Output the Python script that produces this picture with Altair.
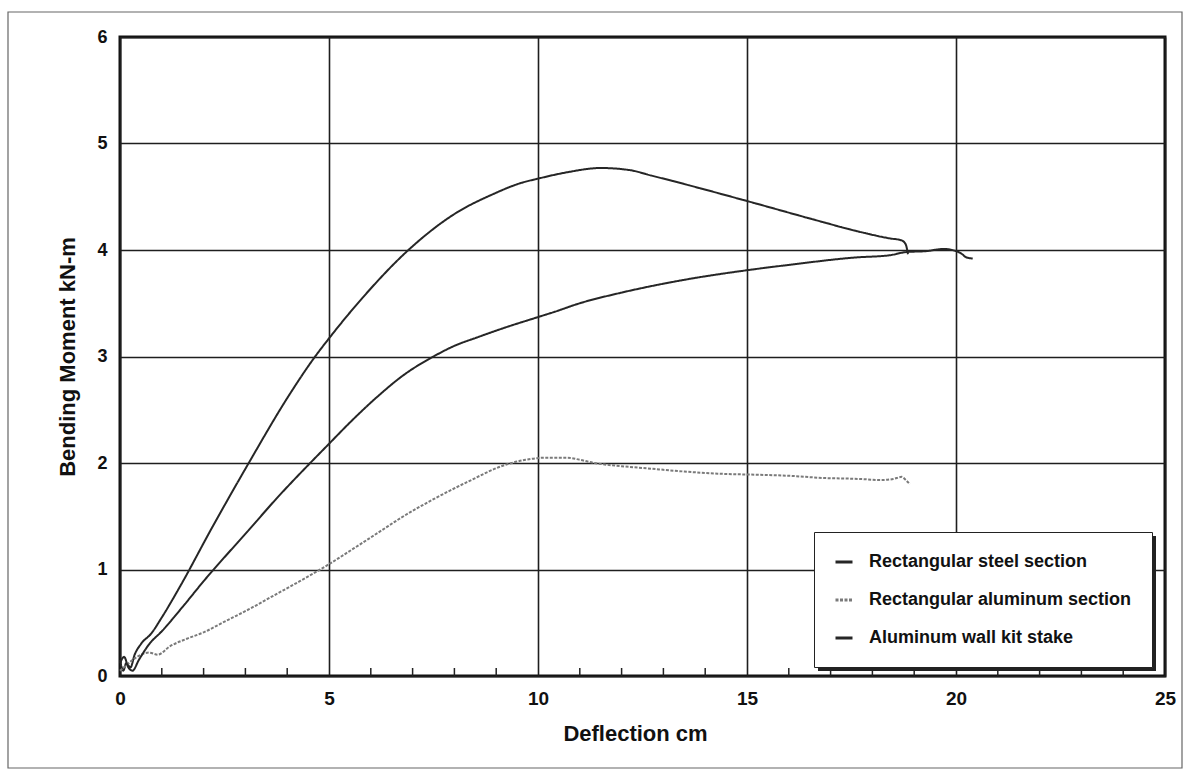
import altair as alt
import pandas as pd

# Series names, in legend order, with their stroke styles
series_names = [
    "Rectangular steel section",
    "Rectangular aluminum section",
    "Aluminum wall kit stake",
]
series_colors = ["#262626", "#7a7a7a", "#262626"]
series_dashes = [[1, 0], [3, 1.5], [1, 0]]

# Rectangular steel section: deflection (cm) / bending moment (kN-m)
steel_x = [0, 0.08, 0.15, 0.25, 0.35, 0.5, 0.75, 1.0, 1.45, 2.17, 3.08, 4.05,
           4.65, 5.0, 5.8, 6.9, 8.05, 8.9, 9.6, 10.0, 10.7, 11.5, 12.2, 12.7,
           13.2, 15.0, 16.65, 17.6, 18.4, 18.7, 18.8, 18.85]
steel_y = [0.15, 0.05, 0.12, 0.08, 0.2, 0.3, 0.4, 0.55, 0.85, 1.37, 2.0, 2.64,
           2.99, 3.17, 3.55, 4.0, 4.35, 4.52, 4.63, 4.67, 4.73, 4.77, 4.75, 4.70,
           4.65, 4.46, 4.28, 4.18, 4.11, 4.09, 4.05, 3.96]

# Rectangular aluminum section
alu_x = [0, 0.15, 0.3, 0.5, 0.7, 0.9, 1.2, 1.6, 2.0, 2.5, 3.1, 3.7, 4.3, 5.0,
         5.6, 6.27, 6.7, 7.5, 8.3, 9.2, 9.7, 10.2, 10.7, 11.0, 11.35, 12.0,
         12.6, 13.5, 14.3, 15.2, 16.0, 16.8, 17.7, 18.2, 18.5, 18.7, 18.8, 18.9]
alu_y = [0.05, 0.1, 0.15, 0.2, 0.22, 0.2, 0.28, 0.35, 0.41, 0.51, 0.63, 0.76,
         0.89, 1.05, 1.2, 1.37, 1.48, 1.66, 1.82, 1.98, 2.03, 2.05, 2.05, 2.03,
         2.0, 1.97, 1.95, 1.92, 1.9, 1.89, 1.88, 1.86, 1.85, 1.84, 1.85, 1.87,
         1.84, 1.80]

# Aluminum wall kit stake
wall_x = [0, 0.1, 0.2, 0.3, 0.45, 0.7, 1.0, 1.5, 2.0, 3.08, 3.73, 4.6, 5.0,
          5.5, 6.15, 6.8, 7.5, 8.0, 8.55, 9.2, 10.0, 10.4, 11.0, 12.0, 13.5,
          15.0, 16.0, 17.6, 18.4, 18.8, 19.3, 19.7, 20.0, 20.15, 20.25, 20.4]
wall_y = [0.12, 0.18, 0.08, 0.05, 0.15, 0.3, 0.42, 0.65, 0.89, 1.37, 1.66, 2.02,
          2.18, 2.38, 2.62, 2.83, 3.0, 3.1, 3.18, 3.27, 3.37, 3.42, 3.5, 3.6,
          3.72, 3.81, 3.86, 3.93, 3.95, 3.98, 3.99, 4.01, 3.99, 3.96, 3.93, 3.92]

# Axis ticks
x_ticks = [0, 5, 10, 15, 20, 25]
y_ticks = [0, 1, 2, 3, 4, 5, 6]
minor_x_ticks = [v for v in range(1, 25) if v % 5 != 0]

rows = []
for name, xs, ys in zip(series_names, [steel_x, alu_x, wall_x], [steel_y, alu_y, wall_y]):
    for i, (xv, yv) in enumerate(zip(xs, ys)):
        rows.append({"series": name, "deflection": xv, "moment": yv, "idx": i})
curves = pd.DataFrame(rows)
minor = pd.DataFrame({"deflection": minor_x_ticks})

W, H = 1045, 639
FONT = "Liberation Sans"

x_enc = alt.X(
    "deflection:Q",
    scale=alt.Scale(domain=[0, 25], nice=False, zero=True),
    axis=alt.Axis(
        values=x_ticks, title="Deflection cm", grid=True, ticks=False, domain=False,
        labelFont=FONT, labelFontSize=19, labelFontWeight="bold", labelColor="#111",
        labelPadding=13, labelFlush=False,
        titleFont=FONT, titleFontSize=22, titleFontWeight="bold", titleColor="#111",
        titleX=515, titleY=64, titleBaseline="alphabetic", titleAlign="center",
    ),
)
y_enc = alt.Y(
    "moment:Q",
    scale=alt.Scale(domain=[0, 6], nice=False),
    axis=alt.Axis(
        values=y_ticks, title="Bending Moment kN-m", grid=True, ticks=False, domain=False,
        labelFont=FONT, labelFontSize=18, labelFontWeight="bold", labelColor="#111",
        labelPadding=13,
        titleFont=FONT, titleFontSize=22, titleFontWeight="bold", titleColor="#111",
        titlePadding=17,
    ),
)

legend = alt.Legend(
    title=None, orient="none", legendX=694, legendY=495,
    fillColor="white", strokeColor="#222", padding=20, rowPadding=19,
    labelFont=FONT, labelFontSize=18, labelFontWeight="bold", labelColor="#111",
    labelLimit=400, labelOffset=15,
    symbolType="stroke", symbolSize=289, symbolStrokeWidth=3,
)

lines = alt.Chart(curves).mark_line(
    strokeJoin="round", strokeWidth=2, interpolate="monotone"
).encode(
    x=x_enc,
    y=y_enc,
    color=alt.Color("series:N", scale=alt.Scale(domain=series_names, range=series_colors), legend=legend),
    strokeDash=alt.StrokeDash("series:N", scale=alt.Scale(domain=series_names, range=series_dashes), legend=legend),
    order="idx:Q",
)

# Inward minor ticks on the bottom axis
ticks = alt.Chart(minor).mark_rule(color="#222", strokeWidth=1.5).encode(
    x=x_enc,
    y=alt.value(H),
    y2=alt.value(H - 8),
)

# Drop shadow behind the legend box
shadow = alt.Chart(alt.Data(values=[{}])).mark_rect(color="#222").encode(
    x=alt.value(698), x2=alt.value(1036), y=alt.value(499), y2=alt.value(634),
)

# Page frame around the figure
frame = alt.Chart(alt.Data(values=[{}])).mark_rect(
    fillOpacity=0, stroke="#666", strokeWidth=1.2
).encode(
    x=alt.value(-112), x2=alt.value(1062), y=alt.value(-25), y2=alt.value(731),
)

chart = alt.layer(frame, lines, ticks, shadow).properties(
    width=W, height=H,
    padding={"left": 120, "top": 37, "right": 25, "bottom": 100},
    autosize=alt.AutoSizeParams(type="none"),
    background="white",
).configure_view(
    stroke="#111", strokeWidth=3,
).configure_axis(
    gridColor="#1e1e1e", gridWidth=1.6, gridOpacity=1,
)

chart.save("out.html", embed_options={"renderer": "svg", "actions": False})
